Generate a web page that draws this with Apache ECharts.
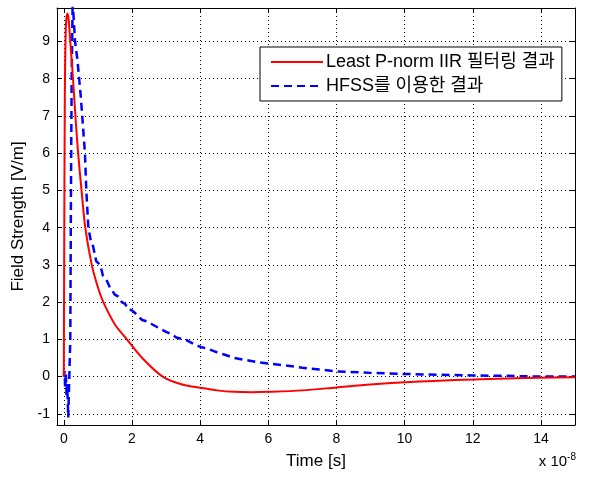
<!DOCTYPE html>
<html>
<head>
<meta charset="utf-8">
<script src="https://cdn.jsdelivr.net/npm/echarts@6/dist/echarts.min.js"></script>
<style>
  html, body { margin: 0; padding: 0; background: #fff; }
  #chart { width: 592px; height: 477px; }
</style>
</head>
<body>
<div id="chart"></div>
<script>
// tick positions (time in units of 1e-8 s)
const xTicks = [0, 2, 4, 6, 8, 10, 12, 14];
const yTicks = [-1, 0, 1, 2, 3, 4, 5, 6, 7, 8, 9];

// Least P-norm IIR filtering result [t, V/m]
const redPoints = [
  [0, 0], [0.01, 3], [0.03, 7.5], [0.06, 9.4], [0.1, 9.75], [0.14, 9.6],
  [0.19, 9.0], [0.27, 8], [0.34, 7], [0.42, 6], [0.52, 5], [0.63, 4],
  [0.82, 3], [1.0, 2.4], [1.16, 2], [1.5, 1.4], [1.85, 1], [2.3, 0.5],
  [2.9, 0], [3.5, -0.22], [4, -0.3], [4.5, -0.37], [5, -0.41], [5.5, -0.42],
  [6, -0.41], [7, -0.37], [8, -0.29], [9, -0.21], [10, -0.15], [11, -0.11],
  [12, -0.08], [13, -0.05], [14, -0.03], [15, -0.02]
];

// HFSS result [t, V/m]
const bluePoints = [
  [0, 0], [0.02, 0.15], [0.04, -0.3], [0.06, 0.1], [0.08, -0.5], [0.1, -0.2],
  [0.13, -1.1], [0.17, -1.05], [0.19, 1], [0.21, 5], [0.23, 8], [0.26, 10.1],
  [0.29, 9.6], [0.33, 9.0], [0.4, 8.5], [0.45, 8], [0.5, 7.5], [0.54, 7],
  [0.58, 6.5], [0.62, 6], [0.66, 5], [0.72, 4], [0.8, 3.6], [0.86, 3.5],
  [0.95, 3.1], [1.07, 3], [1.15, 2.7], [1.25, 2.6], [1.35, 2.4], [1.5, 2.2],
  [1.6, 2.15], [1.7, 2.0], [1.8, 1.95], [1.9, 1.8], [2.0, 1.78], [2.1, 1.7],
  [2.2, 1.6], [2.3, 1.52], [2.45, 1.48], [2.6, 1.4], [2.8, 1.3], [3.0, 1.2],
  [3.15, 1.15], [3.3, 1.05], [3.6, 0.98], [3.8, 0.88], [4.0, 0.8],
  [4.25, 0.74], [4.5, 0.65], [4.75, 0.58], [5.0, 0.5], [5.25, 0.46],
  [5.5, 0.42], [5.75, 0.38], [6, 0.35], [6.5, 0.3], [7, 0.24], [7.5, 0.19],
  [8, 0.14], [9, 0.1], [10, 0.07], [11, 0.05], [12, 0.03], [13, 0.02],
  [14, 0.0], [15, 0.0]
];

const font = "'Liberation Sans', Arial, 'Noto Sans CJK KR', sans-serif";

const chart = echarts.init(document.getElementById('chart'));

const option = {
  backgroundColor: '#fff',
  animation: false,
  textStyle: { fontFamily: font },
  grid: { left: 57, right: 17, top: 8, bottom: 52 },
  legend: {
    orient: 'vertical',
    left: 260,
    top: 47,
    padding: [6, 7, 6, 10],
    itemGap: 6,
    itemWidth: 52,
    itemHeight: 16,
    backgroundColor: '#fff',
    borderColor: '#000',
    borderWidth: 1,
    itemStyle: { opacity: 0 },
    textStyle: { fontSize: 18, color: '#000', fontFamily: font, padding: [0, 0, 0, -2] },
    data: ['Least P-norm IIR 필터링 결과', 'HFSS를 이용한 결과']
  },
  graphic: [{
    type: 'text',
    right: 16,
    top: 452,
    style: {
      text: 'x 10{sup|-8}',
      fontFamily: font,
      fontSize: 15,
      fill: '#000',
      rich: { sup: { fontSize: 10, verticalAlign: 'top', padding: [0, 0, 10, 0] } }
    }
  }],
  xAxis: [{
    type: 'value',
    min: -0.2,
    max: 15,
    name: 'Time [s]',
    nameLocation: 'middle',
    nameGap: 28,
    nameTextStyle: { fontSize: 17, color: '#000', fontFamily: font },
    axisLine: { onZero: false, lineStyle: { color: '#000', width: 1 } },
    axisTick: { inside: true, length: 5, lineStyle: { color: '#000' }, customValues: xTicks },
    axisLabel: { fontSize: 14, color: '#000', margin: 7, customValues: xTicks },
    splitLine: { show: true, lineStyle: { color: '#000', type: [1, 3], width: 1 } }
  }, {
    type: 'value',
    position: 'top',
    min: -0.2,
    max: 15,
    axisLine: { onZero: false, lineStyle: { color: '#000', width: 1 } },
    axisTick: { inside: true, length: 5, lineStyle: { color: '#000' }, customValues: xTicks },
    axisLabel: { show: false },
    splitLine: { show: false }
  }],
  yAxis: [{
    type: 'value',
    min: -1.3,
    max: 9.9,
    name: 'Field Strength [V/m]',
    nameLocation: 'middle',
    nameGap: 28,
    nameTextStyle: { fontSize: 17, color: '#000', fontFamily: font },
    axisLine: { show: true, onZero: false, lineStyle: { color: '#000', width: 1 } },
    axisTick: { show: true, inside: true, length: 5, lineStyle: { color: '#000' }, customValues: yTicks },
    axisLabel: { fontSize: 14, color: '#000', margin: 7, customValues: yTicks },
    splitLine: { show: true, lineStyle: { color: '#000', type: [1, 3], width: 1 } }
  }, {
    type: 'value',
    position: 'right',
    min: -1.3,
    max: 9.9,
    axisLine: { show: true, onZero: false, lineStyle: { color: '#000', width: 1 } },
    axisTick: { show: true, inside: true, length: 5, lineStyle: { color: '#000' }, customValues: yTicks },
    axisLabel: { show: false },
    splitLine: { show: false }
  }],
  series: [{
    name: 'Least P-norm IIR 필터링 결과',
    type: 'line',
    data: redPoints,
    showSymbol: false,
    symbol: 'none',
    smooth: 0.3,
    clip: true,
    lineStyle: { color: '#ff0000', width: 2 },
    itemStyle: { color: '#ff0000' },
    z: 3
  }, {
    name: 'HFSS를 이용한 결과',
    type: 'line',
    data: bluePoints,
    showSymbol: false,
    symbol: 'none',
    clip: true,
    lineStyle: { color: '#0000ff', width: 2.5, type: [8, 5] },
    itemStyle: { color: '#0000ff' },
    z: 2
  }]
};

chart.setOption(option);
</script>
</body>
</html>
